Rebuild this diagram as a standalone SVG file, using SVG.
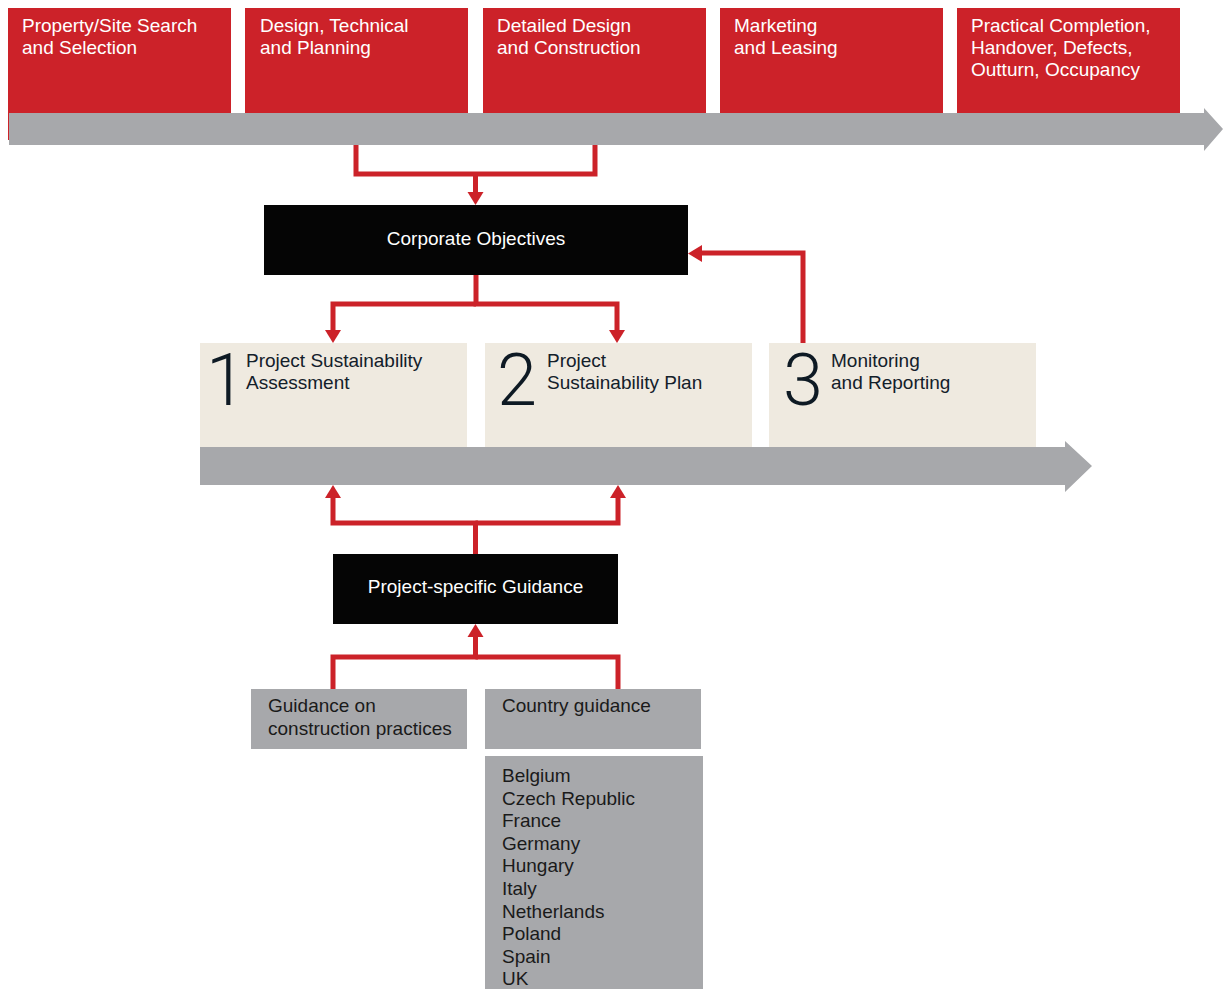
<svg xmlns="http://www.w3.org/2000/svg" width="1223" height="989" viewBox="0 0 1223 989">
<style>
.red{fill:#CC2229}
.gray{fill:#A7A8AB}
.beige{fill:#EFEAE0}
.blk{fill:#050505}
text{font-family:"Liberation Sans",Arial,sans-serif;font-size:19px}
.wt{fill:#FFFFFF}
.dt{fill:#13202A}
.gt{fill:#1A1A1A}
.num{font-family:Roboto,"Liberation Sans",sans-serif;font-weight:300;font-size:72px;fill:#0E1A24;text-anchor:middle}
.mid{text-anchor:middle}
.conn{fill:none;stroke:#CC2229;stroke-width:5;stroke-linejoin:miter;stroke-linecap:butt}
.head{fill:#CC2229}
</style>
<rect width="1223" height="989" fill="#FFFFFF"/>

<g id="timeline-top">
  <rect class="red" x="8" y="8" width="223" height="132"/>
  <polygon class="gray" points="9,113 1204,113 1204,108 1223,129 1204,151 1204,145 9,145"/>
</g>
<g id="stage1">
  <text class="wt" x="22" y="32">Property/Site Search</text>
  <text class="wt" x="22" y="54">and Selection</text>
</g>
<g id="stage2">
  <rect class="red" x="245" y="8" width="223" height="105"/>
  <text class="wt" x="260" y="32">Design, Technical</text>
  <text class="wt" x="260" y="54">and Planning</text>
</g>
<g id="stage3">
  <rect class="red" x="483" y="8" width="223" height="105"/>
  <text class="wt" x="497" y="32">Detailed Design</text>
  <text class="wt" x="497" y="54">and Construction</text>
</g>
<g id="stage4">
  <rect class="red" x="720" y="8" width="223" height="105"/>
  <text class="wt" x="734" y="32">Marketing</text>
  <text class="wt" x="734" y="54">and Leasing</text>
</g>
<g id="stage5">
  <rect class="red" x="957" y="8" width="223" height="105"/>
  <text class="wt" x="971" y="32">Practical Completion,</text>
  <text class="wt" x="971" y="54">Handover, Defects,</text>
  <text class="wt" x="971" y="76">Outturn, Occupancy</text>
</g>

<g id="corporate-objectives">
  <rect class="blk" x="264" y="205" width="424" height="70"/>
  <text class="wt mid" x="476" y="245">Corporate Objectives</text>
</g>

<g id="step1">
  <rect class="beige" x="200" y="343" width="267" height="104"/>
  <text class="num" x="226" y="405">1</text>
  <text class="dt" x="246" y="367">Project Sustainability</text>
  <text class="dt" x="246" y="389">Assessment</text>
</g>
<g id="step2">
  <rect class="beige" x="485" y="343" width="267" height="104"/>
  <text class="num" x="517" y="405">2</text>
  <text class="dt" x="547" y="367">Project</text>
  <text class="dt" x="547" y="389">Sustainability Plan</text>
</g>
<g id="step3">
  <rect class="beige" x="769" y="343" width="267" height="104"/>
  <text class="num" x="803" y="405">3</text>
  <text class="dt" x="831" y="367">Monitoring</text>
  <text class="dt" x="831" y="389">and Reporting</text>
</g>
<g id="timeline-steps">
  <polygon class="gray" points="200,447 1065,447 1065,441 1092,466 1065,492 1065,485 200,485"/>
</g>

<g id="project-guidance">
  <rect class="blk" x="333" y="554" width="285" height="70"/>
  <text class="wt mid" x="475.5" y="593">Project-specific Guidance</text>
</g>

<g id="construction-guidance">
  <rect class="gray" x="251" y="689" width="216" height="60"/>
  <text class="gt" x="268" y="712">Guidance on</text>
  <text class="gt" x="268" y="735">construction practices</text>
</g>
<g id="country-guidance">
  <rect class="gray" x="485" y="689" width="216" height="60"/>
  <text class="gt" x="502" y="712">Country guidance</text>
</g>
<g id="countries">
  <rect class="gray" x="485" y="756" width="218" height="233"/>
  <text class="gt" x="502" y="782">Belgium</text>
  <text class="gt" x="502" y="804.6">Czech Republic</text>
  <text class="gt" x="502" y="827.2">France</text>
  <text class="gt" x="502" y="849.8">Germany</text>
  <text class="gt" x="502" y="872.4">Hungary</text>
  <text class="gt" x="502" y="895">Italy</text>
  <text class="gt" x="502" y="917.6">Netherlands</text>
  <text class="gt" x="502" y="940.2">Poland</text>
  <text class="gt" x="502" y="962.8">Spain</text>
  <text class="gt" x="502" y="985.4">UK</text>
</g>

<g id="connectors">
  <path class="conn" d="M356 145 V174 H595 V145"/>
  <path class="conn" d="M475.5 174 V193"/>
  <polygon class="head" points="467.5,192 483.5,192 475.5,205"/>

  <path class="conn" d="M476 275 V304 H617 V331"/>
  <path class="conn" d="M476 304 H333 V331"/>
  <polygon class="head" points="325,330 341,330 333,343"/>
  <polygon class="head" points="609,330 625,330 617,343"/>

  <path class="conn" d="M803 343 V253 H701"/>
  <polygon class="head" points="702,245 702,262 688,253.5"/>

  <path class="conn" d="M475.5 554 V523 H333 V497"/>
  <path class="conn" d="M475.5 523 H618 V497"/>
  <polygon class="head" points="325,498 341,498 333,485"/>
  <polygon class="head" points="610,498 626,498 618,485"/>

  <path class="conn" d="M475.5 637 V657 H333 V689"/>
  <path class="conn" d="M475.5 657 H618 V689"/>
  <polygon class="head" points="467.5,637 483.5,637 475.5,624"/>
</g>
</svg>
